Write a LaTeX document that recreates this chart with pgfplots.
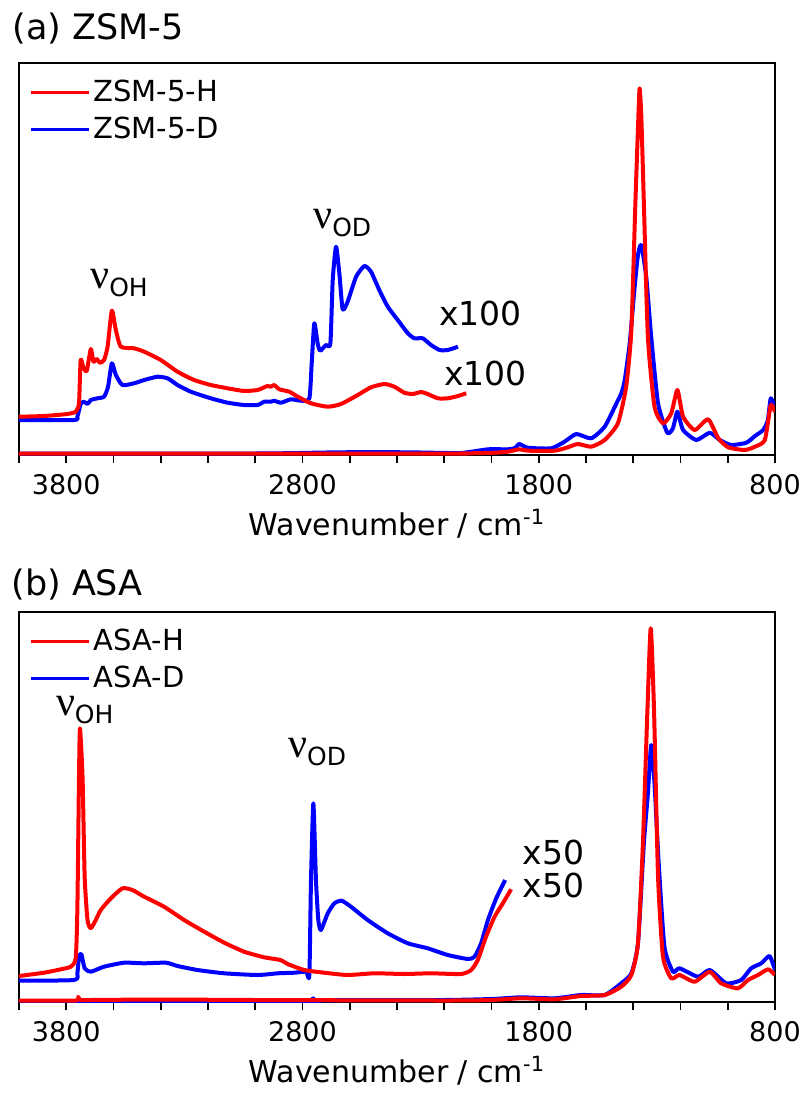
\documentclass[border=0pt]{standalone}
\usepackage{fontspec}
\setmainfont{DejaVu Sans}
\newfontfamily\nufont{Liberation Serif}
\usepackage{pgfplots}
\pgfplotsset{compat=1.18}

% nu with a sans subscript, e.g. \nulab{OH}
\newcommand{\nulab}[1]{{\fontsize{21}{21}\selectfont\nufont ν}\raisebox{-4pt}{\fontsize{12.5}{12.5}\selectfont #1}}

\pgfplotsset{
  spec/.style={
    scale only axis,
    width=378pt,
    xmin=800, xmax=4000, x dir=reverse,
    xtick={800,1800,2800,3800},
    minor xtick={1000,1200,...,4000},
    ytick=\empty,
    tick align=outside,
    xtick pos=bottom,
    major tick length=4pt, minor tick length=4pt,
    every tick/.style={black, line width=0.8pt},
    axis line style={line width=0.9pt},
    /pgf/number format/assume math mode=true,
    /pgf/number format/1000 sep={},
    xticklabel style={font=\fontsize{13.5}{13.5}\selectfont, yshift=-2pt},
    xlabel={Wavenumber / cm\textsuperscript{-1}},
    xlabel style={font=\fontsize{15}{15}\selectfont, at={(axis description cs:0.5,0)}, anchor=base, yshift=-40pt},
    legend style={draw=none, fill=none, at={(0,1)}, anchor=north west,
      xshift=2pt, yshift=-5pt, font=\fontsize{14.5}{14.5}\selectfont,
      row sep=3pt, nodes={inner sep=1.5pt}},
    legend cell align=left,
    legend image code/.code={\draw[##1, line width=1.6pt] (0pt,0pt) -- (29pt,0pt);},
    clip mode=individual,
  },
  sp/.style={line width=2pt, forget plot, smooth, tension=0.35, line join=round},
}

\begin{document}
\begin{tikzpicture}

% ---------------- (a) ZSM-5 ----------------
\begin{axis}[spec, name=a, at={(0,0)}, anchor=south west,
    height=196pt, ymin=0, ymax=392]
\addlegendimage{red}
\addlegendentry{ZSM-5-H}
\addlegendimage{blue}
\addlegendentry{ZSM-5-D}

% ZSM-5-D
\addplot[sp, blue] coordinates {
(4000,1.5) (3000,1.5) (2700,2.5) (2500,3) (2300,2.5) (2130,2) (2015,5.7) (1931,5.7)
(1900,7) (1882,11) (1846,7.3) (1747,6.7) (1691,13.3) (1641,21) (1578,16.7) (1521,28.3)
(1471,51.7) (1450,62) (1436,75) (1415,111.7) (1394,168.3) (1380,200) (1366,210)
(1345,178.3) (1324,118.3) (1295,51.7) (1256,22.3) (1232,26.7) (1213,43.3) (1189,25)
(1133,15) (1076,22.3) (1034,15) (985,10) (921,12.3) (885,19) (850,25) (830,35)
(818,56.7) (800,48)};
% ZSM-5-D x100
\addplot[sp, blue] coordinates {
(4000,35) (3767,35) (3753,38.3) (3739,51) (3725,53.3) (3710,51) (3696,55) (3668,56.7)
(3640,58.3) (3623,68.3) (3607,91.7) (3590,80) (3562,70) (3513,71.7) (3470,75)
(3414,78.3) (3371,76.7) (3329,70) (3273,63.3) (3188,56.7) (3117,52.3) (3047,50)
(2990,50) (2962,53.3) (2934,53.3) (2920,54.3) (2891,52.3) (2849,55.7) (2806,54.3)
(2771,56.7) (2761,91.7) (2750,131.7) (2736,111.7) (2725,104.3) (2701,110) (2682,111.7)
(2672,175) (2658,208.3) (2644,181.7) (2630,145.7) (2609,153.3) (2573,178.3) (2538,189)
(2510,183.3) (2475,165) (2439,148.3) (2397,135) (2354,121.7) (2326,116.7) (2291,116.7)
(2256,110) (2220,105) (2185,105) (2142,108.3)};
% ZSM-5-H
\addplot[sp, red] coordinates {
(4000,1.5) (2200,1.5) (2130,1.5) (1987,2.3) (1931,3.3) (1882,5.7) (1846,4.3)
(1733,4.3) (1677,7.7) (1634,11) (1578,8.3) (1521,15) (1465,31.7) (1430,68.3)
(1408,125) (1391,251.7) (1378,340) (1373,366.7) (1366,340) (1355,251.7) (1338,118.3)
(1310,48.3) (1274,31.7) (1239,41.7) (1213,65) (1189,38.3) (1140,25) (1083,35.7)
(1040,16.7) (998,7.7) (928,5) (885,8.3) (843,15) (818,50) (800,43)};
% ZSM-5-H x100
\addplot[sp, red] coordinates {
(4000,38.3) (3894,39) (3795,41) (3760,43.3) (3746,52) (3739,95) (3727,87) (3713,84.3)
(3696,106) (3685,93.3) (3671,96) (3657,92.3) (3640,95) (3625,108.3) (3607,144.3)
(3590,125) (3569,108.3) (3513,106.7) (3470,103.3) (3400,95) (3329,83.3) (3259,75)
(3188,70) (3117,66.7) (3047,64) (2990,65) (2962,67.7) (2948,69) (2934,68.3) (2920,70)
(2898,65.7) (2856,63.3) (2820,58.3) (2764,51.7) (2693,48.3) (2637,51) (2566,60)
(2510,67.7) (2453,71) (2411,68.3) (2369,62.3) (2333,61) (2298,63) (2270,61)
(2227,56.7) (2185,56.7) (2142,59) (2107,61.7)};

\node[anchor=base west, inner sep=0pt] at (axis cs:3700,167) {\nulab{OH}};
\node[anchor=base west, inner sep=0pt] at (axis cs:2756,227) {\nulab{OD}};
\node[anchor=base west, inner sep=0pt, font=\fontsize{16.5}{16.5}\selectfont] at (axis cs:2222,130) {x100};
\node[anchor=base west, inner sep=0pt, font=\fontsize{16.5}{16.5}\selectfont] at (axis cs:2201,70) {x100};
\end{axis}

% ---------------- (b) ASA ----------------
\begin{axis}[spec, name=b, at={(0,-273.5pt)}, anchor=south west,
    height=195pt, ymin=0, ymax=390]
\addlegendimage{red}
\addlegendentry{ASA-H}
\addlegendimage{blue}
\addlegendentry{ASA-D}

% ASA-D
\addplot[sp, blue] coordinates {
(4000,1) (2780,1) (2765,1.5) (2754,3.7) (2743,1.5) (2600,2) (2200,2) (2000,3)
(1875,4.7) (1733,3.7) (1621,7) (1521,7) (1451,18.7) (1408,28.7) (1380,58.7)
(1355,158.7) (1338,208.7) (1324,257) (1310,218.7) (1293,142) (1268,55.3) (1232,30.3)
(1204,33.7) (1126,25.3) (1076,32) (1006,18.7) (943,22) (901,33.7) (858,38.7)
(823,46) (800,32)};
% ASA-D x50
\addplot[sp, blue] coordinates {
(4000,21.3) (3767,22) (3753,28.7) (3746,45.3) (3736,48) (3722,33.7) (3696,30.3)
(3640,35.3) (3555,39.3) (3470,38.7) (3378,39.3) (3329,36) (3244,32) (3131,28.7)
(2990,27) (2905,28.7) (2835,29.3) (2785,30.3) (2771,27) (2764,122) (2754,198.7)
(2743,122) (2733,82) (2722,72) (2693,88.7) (2665,98.7) (2634,101.3) (2595,95.3)
(2524,82) (2439,68.7) (2354,58.7) (2270,53.7) (2185,47) (2100,43) (2072,45.3)
(2044,58.7) (2015,82) (1980,103.7) (1942,122)};
% ASA-H
\addplot[sp, red] coordinates {
(4000,1.5) (3760,1.5) (3750,5.3) (3740,2) (3700,2) (3400,2.5) (3000,2) (2200,1.5)
(2000,2) (1875,3.7) (1733,2.7) (1621,6) (1521,7) (1451,15.3) (1408,27) (1380,58.7)
(1359,158.7) (1340,292) (1326,373.7) (1312,292) (1295,125.3) (1274,45.3) (1239,23.7)
(1204,27) (1140,20.3) (1076,30.3) (1028,18.7) (957,13.7) (914,22) (872,27)
(829,32.7) (800,27)};
% ASA-H x50
\addplot[sp, red] coordinates {
(4000,26) (3894,29.3) (3823,32.7) (3781,35.3) (3760,43.7) (3753,92) (3746,225.3)
(3742,273.7) (3731,225.3) (3722,125.3) (3710,82) (3696,73.7) (3675,82) (3654,92)
(3611,103.7) (3562,113.7) (3520,112) (3470,105.3) (3386,95.3) (3301,82) (3216,70.3)
(3131,59.3) (3047,50.3) (2962,44.7) (2893,42) (2863,38) (2792,32) (2708,29.3)
(2609,27) (2496,28.7) (2369,28) (2256,28.7) (2129,28) (2086,32) (2058,42)
(2023,65.3) (1987,85.3) (1952,98.7) (1917,112.7)};

\node[anchor=base west, inner sep=0pt] at (axis cs:3845,287) {\nulab{OH}};
\node[anchor=base west, inner sep=0pt] at (axis cs:2862,245) {\nulab{OD}};
\node[anchor=base west, inner sep=0pt, font=\fontsize{16.5}{16.5}\selectfont] at (axis cs:1870,138) {x50};
\node[anchor=base west, inner sep=0pt, font=\fontsize{16.5}{16.5}\selectfont] at (axis cs:1870,105) {x50};
\end{axis}

\node[anchor=base west, inner sep=0pt, font=\fontsize{17.5}{17.5}\selectfont]
  at ([xshift=-3.5pt, yshift=11.5pt]a.north west) {(a) ZSM-5};
\node[anchor=base west, inner sep=0pt, font=\fontsize{17.5}{17.5}\selectfont]
  at ([xshift=-4pt, yshift=8.5pt]b.north west) {(b) ASA};

\pgfresetboundingbox
\path[use as bounding box] ([xshift=-9.5pt, yshift=31.5pt]a.north west)
  rectangle ([xshift=12.5pt, yshift=-45.5pt]b.south east);
\end{tikzpicture}
\end{document}
